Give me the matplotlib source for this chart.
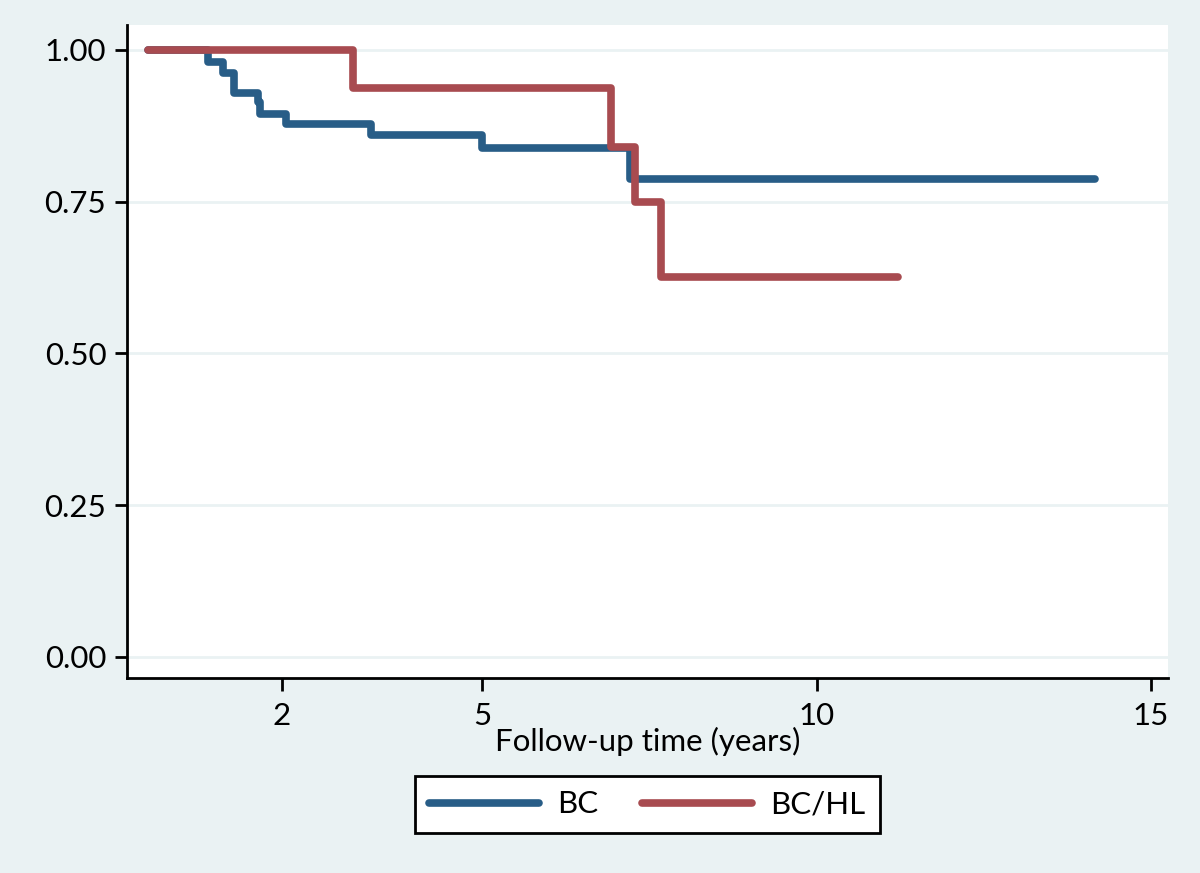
import matplotlib
matplotlib.use('Agg')
import matplotlib.pyplot as plt

# Kaplan-Meier step estimates
bc_time = [0.0, 0.90, 1.13, 1.28, 1.64, 1.68, 2.06, 3.33, 5.00, 7.21, 14.16]
bc_surv = [1.000, 0.980, 0.962, 0.929, 0.914, 0.894, 0.878, 0.859, 0.839, 0.788, 0.788]

hl_time = [0.0, 3.07, 6.92, 7.29, 7.67, 11.22]
hl_surv = [1.000, 0.9375, 0.840, 0.750, 0.625, 0.625]

x_ticks = [2, 5, 10, 15]
y_ticks = [0.00, 0.25, 0.50, 0.75, 1.00]

bg = '#eaf2f3'
blue = '#285d87'
red = '#a84b50'

plt.rcParams['font.family'] = ['Lato', 'DejaVu Sans']

fig = plt.figure(figsize=(12, 8.73), dpi=100, facecolor=bg)
ax = fig.add_axes([0.106, 0.2234, 0.867, 0.748])
ax.set_facecolor('white')

for y in y_ticks:
    ax.axhline(y, color=bg, lw=2, zorder=0)

ax.step(bc_time, bc_surv, where='post', color=blue, lw=5.5,
        solid_capstyle='round', solid_joinstyle='round', label='BC')
ax.step(hl_time, hl_surv, where='post', color=red, lw=5.5,
        solid_capstyle='round', solid_joinstyle='round', label='BC/HL')

ax.set_xlim(-0.31, 15.25)
ax.set_ylim(-0.035, 1.041)
ax.set_xticks(x_ticks)
ax.set_yticks(y_ticks)
ax.set_yticklabels(['%.2f' % v for v in y_ticks])

for s in ['top', 'right']:
    ax.spines[s].set_visible(False)
for s in ['left', 'bottom']:
    ax.spines[s].set_linewidth(2)
ax.tick_params(axis='both', width=2, length=9, labelsize=22.5, color='black', pad=6)
ax.tick_params(axis='x', pad=8)

ax.set_xlabel('Follow-up time (years)', fontsize=22.5, labelpad=-2)

leg = fig.legend(loc='center', bbox_to_anchor=(0.5395, 0.0785), ncol=2,
                 fontsize=22.5, frameon=True, fancybox=False, edgecolor='black',
                 facecolor='white', framealpha=1,
                 handlelength=3.5, handletextpad=0.6, columnspacing=1.4,
                 borderpad=0.45, borderaxespad=0)
leg.get_frame().set_linewidth(2)

fig.savefig('out.png', dpi=100, facecolor=bg)
